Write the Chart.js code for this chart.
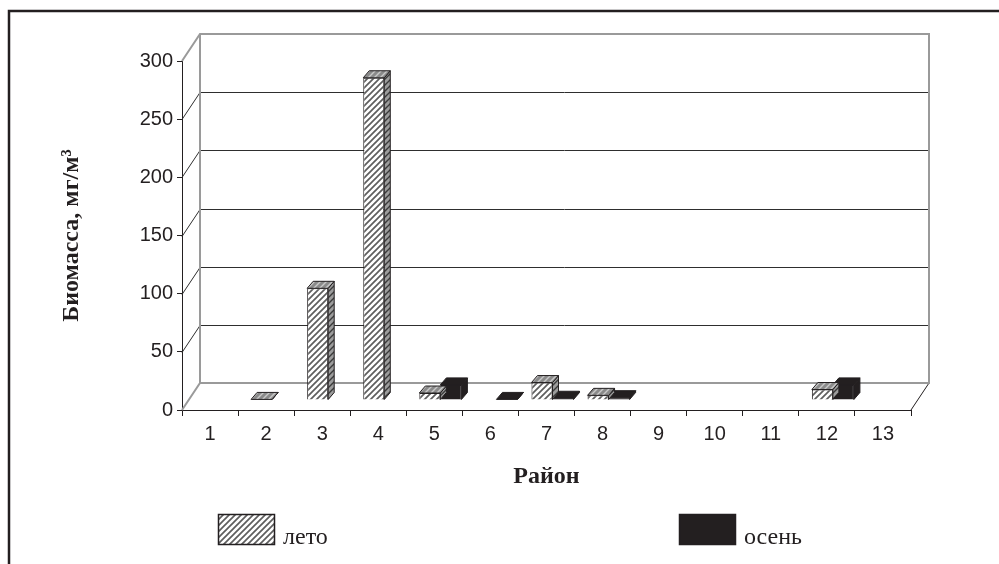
<!DOCTYPE html>
<html lang="ru">
<head>
<meta charset="UTF-8">
<title>Биомасса по районам</title>
<script src="https://cdn.jsdelivr.net/npm/chart.js"></script>
<style>
    html, body { margin: 0; padding: 0; background: #fff; }
    #wrap { width: 999px; height: 564px; }
</style>
</head>
<body>
<div id="wrap"><canvas id="bio" width="999" height="564"></canvas></div>
<script>
    // district numbers on the x axis
    const districts = ['1', '2', '3', '4', '5', '6', '7', '8', '9', '10', '11', '12', '13'];
    // biomass, mg/m3
    const summer = [null, 0.5, 96, 277, 6, null, 15, 4, null, null, null, 9, null];
    const autumn = [null, null, null, null, 13, 0.5, 1.5, 2, null, null, null, 13, null];
    const seriesNames = ['лето', 'осень'];
    const yMin = 0, yMax = 300, yStep = 50;

    const ink = '#231f20';
    const wallGray = '#9a9a9a';
    // depth of the 3d box and of the bars
    const depth = { dx: 18, dy: -27 };
    const barShift = { dx: 6, dy: -10 };
    const barDepth = { dx: 6, dy: -7 };

    function hatch(bg, fg, lw) {
        const c = document.createElement('canvas');
        c.width = 6; c.height = 6;
        const g = c.getContext('2d');
        g.fillStyle = bg;
        g.fillRect(0, 0, 6, 6);
        g.strokeStyle = fg;
        g.lineWidth = lw;
        g.beginPath();
        g.moveTo(-1, 1); g.lineTo(1, -1);
        g.moveTo(0, 6); g.lineTo(6, 0);
        g.moveTo(5, 7); g.lineTo(7, 5);
        g.stroke();
        return g.createPattern(c, 'repeat');
    }

    const ctx0 = document.getElementById('bio').getContext('2d');
    const summerFront = hatch('#ffffff', '#5e5e5e', 1.7);
    const summerSide = hatch('#9c9c9c', '#3a3a3a', 1.4);
    const summerTop = hatch('#8a8a8a', '#c8c8c8', 1.4);
    const faces = [
        { side: summerSide, top: summerTop },
        { side: ink, top: ink }
    ];

    // back wall, side wall and floor of the 3d box
    const box3d = {
        id: 'box3d',
        beforeDraw(chart) {
            const c = chart.ctx;
            c.save();
            c.fillStyle = '#fff';
            c.fillRect(0, 0, chart.width, chart.height);
            c.restore();
        },
        beforeDatasetsDraw(chart) {
            const c = chart.ctx;
            const ys = chart.scales.y, xs = chart.scales.x;
            const l = xs.left, r = xs.right;
            const top = ys.getPixelForValue(yMax), bot = ys.getPixelForValue(yMin);
            c.save();
            // inner grid lines on back wall + side wall
            c.lineWidth = 1;
            c.strokeStyle = '#2e2e2e';
            for (let v = yMin + yStep; v < yMax; v += yStep) {
                const y = Math.round(ys.getPixelForValue(v)) + 0.5;
                c.beginPath();
                c.moveTo(l, y);
                c.lineTo(l + depth.dx, y + depth.dy);
                c.lineTo(r + depth.dx, y + depth.dy);
                c.stroke();
            }
            // floor right edge
            c.strokeStyle = ink;
            c.beginPath();
            c.moveTo(r, bot);
            c.lineTo(r + depth.dx, bot + depth.dy);
            c.stroke();
            // grey frame of the wall
            c.strokeStyle = wallGray;
            c.lineWidth = 2;
            c.beginPath();
            c.moveTo(l, top);
            c.lineTo(l + depth.dx, top + depth.dy);
            c.lineTo(r + depth.dx, top + depth.dy);
            c.lineTo(r + depth.dx, bot + depth.dy);
            c.lineTo(l + depth.dx, bot + depth.dy);
            c.lineTo(l, bot);
            c.moveTo(l + depth.dx, top + depth.dy);
            c.lineTo(l + depth.dx, bot + depth.dy);
            c.stroke();
            c.restore();
            // bars sit in the middle of the box depth
            c.save();
            c.translate(barShift.dx, barShift.dy);
        },
        afterDatasetDraw(chart, args) {
            const c = chart.ctx;
            const f = faces[args.index];
            const values = chart.data.datasets[args.index].data;
            chart.getDatasetMeta(args.index).data.forEach((bar, i) => {
                if (values[i] == null) return;
                const p = bar.getProps(['x', 'y', 'base', 'width'], true);
                const L = p.x - p.width / 2, R = p.x + p.width / 2;
                const T = Math.min(p.y, p.base), B = Math.max(p.y, p.base);
                c.save();
                c.lineWidth = 1;
                c.strokeStyle = ink;
                c.fillStyle = f.side;
                c.beginPath();
                c.moveTo(R, T);
                c.lineTo(R + barDepth.dx, T + barDepth.dy);
                c.lineTo(R + barDepth.dx, B + barDepth.dy);
                c.lineTo(R, B);
                c.closePath();
                c.fill(); c.stroke();
                c.fillStyle = f.top;
                c.beginPath();
                c.moveTo(L, T);
                c.lineTo(L + barDepth.dx, T + barDepth.dy);
                c.lineTo(R + barDepth.dx, T + barDepth.dy);
                c.lineTo(R, T);
                c.closePath();
                c.fill(); c.stroke();
                c.restore();
            });
        },
        afterDatasetsDraw(chart) {
            chart.ctx.restore();
        },
        afterDraw(chart) {
            const c = chart.ctx;
            c.save();
            // outer frame
            c.strokeStyle = ink;
            c.lineWidth = 2.5;
            c.beginPath();
            c.moveTo(9, chart.height);
            c.lineTo(9, 11);
            c.lineTo(chart.width, 11);
            c.stroke();
            // legend
            const items = [{ x: 218 }, { x: 679 }];
            c.font = '24px "Liberation Serif", "Times New Roman", serif';
            c.textBaseline = 'alphabetic';
            chart.data.datasets.forEach((ds, i) => {
                const x = items[i].x, y = 514, w = 57, h = 31;
                c.fillStyle = ds.backgroundColor;
                c.fillRect(x, y, w, h);
                c.lineWidth = 1.5;
                c.strokeStyle = ink;
                c.strokeRect(x + 0.5, y + 0.5, w - 1, h - 1);
                c.fillStyle = ink;
                c.fillText(ds.label, x + w + 8, y + 30);
            });
            c.restore();
        }
    };

    new Chart(ctx0, {
        type: 'bar',
        data: {
            labels: districts,
            datasets: [
                {
                    label: seriesNames[0],
                    data: summer,
                    backgroundColor: summerFront,
                    borderColor: ink,
                    borderWidth: 1
                },
                {
                    label: seriesNames[1],
                    data: autumn,
                    backgroundColor: ink,
                    borderColor: ink,
                    borderWidth: 1
                }
            ]
        },
        options: {
            responsive: false,
            animation: false,
            layout: { padding: { left: 0, top: 61, right: 88, bottom: 0 } },
            datasets: {
                bar: { categoryPercentage: 0.75, barPercentage: 1, skipNull: false }
            },
            plugins: {
                legend: { display: false },
                tooltip: { enabled: false }
            },
            scales: {
                x: {
                    offset: true,
                    grid: { offset: true, drawOnChartArea: false, tickLength: 6, color: ink, lineWidth: 1 },
                    border: { display: true, color: ink, width: 1 },
                    ticks: {
                        color: ink,
                        padding: 6,
                        maxRotation: 0,
                        font: { family: '"Liberation Sans", Arial, sans-serif', size: 20 }
                    },
                    title: {
                        display: true,
                        text: 'Район',
                        color: ink,
                        padding: { top: 0, bottom: 73 },
                        font: { family: '"Liberation Serif", "Times New Roman", serif', size: 24, weight: 'bold' }
                    },
                    afterFit(s) { s.height = 154; }
                },
                y: {
                    min: yMin,
                    max: yMax,
                    grid: { drawOnChartArea: false, tickLength: 5, color: ink, lineWidth: 1 },
                    border: { display: true, color: ink, width: 1 },
                    ticks: {
                        stepSize: yStep,
                        color: ink,
                        padding: 4,
                        font: { family: '"Liberation Sans", Arial, sans-serif', size: 20 }
                    },
                    title: {
                        display: true,
                        text: 'Биомасса, мг/м³',
                        color: ink,
                        padding: { top: 57, bottom: 0 },
                        font: { family: '"Liberation Serif", "Times New Roman", serif', size: 24, weight: 'bold' }
                    },
                    afterFit(s) { s.width = 182; }
                }
            }
        },
        plugins: [box3d]
    });
</script>
</body>
</html>
